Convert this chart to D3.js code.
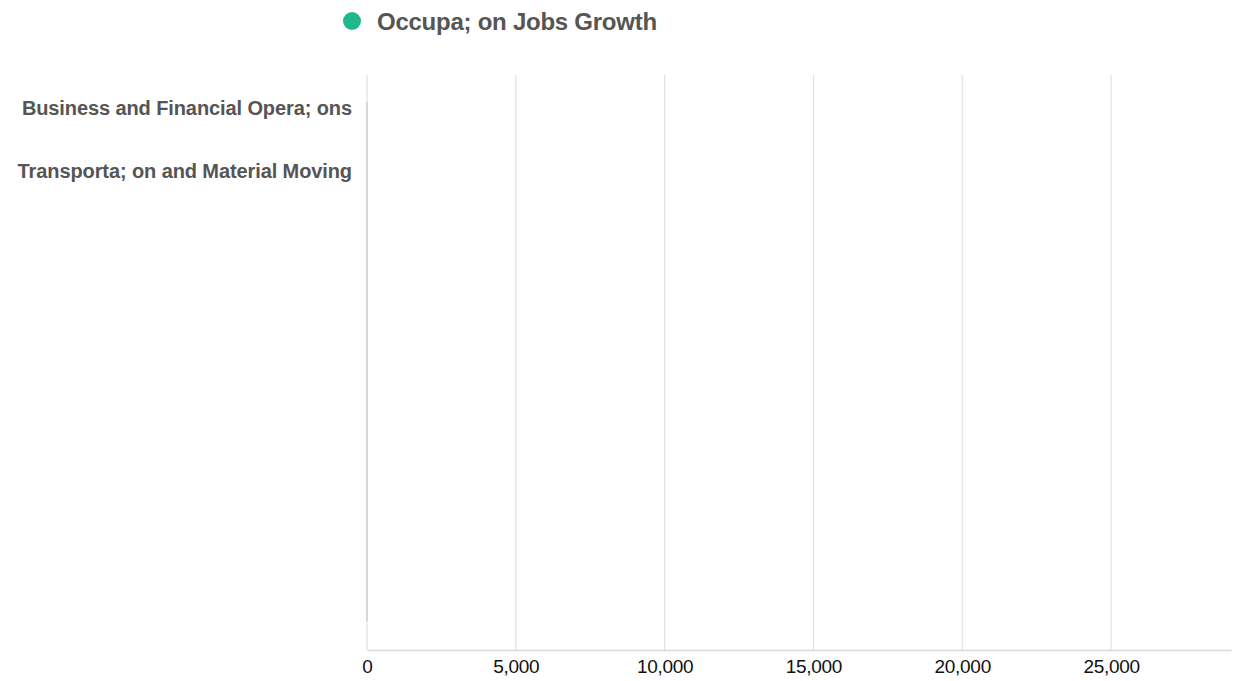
<!DOCTYPE html>
<html>
<head>
<meta charset="utf-8">
<script src="https://cdn.jsdelivr.net/npm/d3@7"></script>
<style>
  html, body { margin: 0; padding: 0; background: #fff; }
  svg text { font-family: "Liberation Sans", Arial, sans-serif; }
</style>
</head>
<body>
<svg id="chart" width="1244" height="681"></svg>
<script>
const categories = ["Business and Financial Opera; ons", "Transporta; on and Material Moving"];
const jobsGrowth = [0, 0];
const seriesName = "Occupa; on Jobs Growth";
const xTicks = [0, 5000, 10000, 15000, 20000, 25000];
const xMax = 29030;

const svg = d3.select("#chart");
const W = 1244, H = 681;
const margin = { left: 367, right: 13, top: 75, bottom: 31 };
const plotBottom = H - margin.bottom;

const x = d3.scaleLinear().domain([0, xMax]).range([margin.left, W - margin.right]);
const y = d3.scaleBand().domain(categories).range([77.5, 77.5 + 63 * categories.length])
  .paddingInner(0.3).paddingOuter(0.15);

// gridlines
svg.append("g").selectAll("line").data(xTicks).join("line")
  .attr("x1", d => x(d)).attr("x2", d => x(d))
  .attr("y1", margin.top).attr("y2", plotBottom)
  .attr("stroke", "#e0e0e0").attr("stroke-width", 1.2);

// y axis line
svg.append("line")
  .attr("x1", x(0)).attr("x2", x(0))
  .attr("y1", 102).attr("y2", 621)
  .attr("stroke", "#cfcfcf").attr("stroke-width", 1.5);

// x axis
const xAxis = d3.axisBottom(x).tickValues(xTicks).tickFormat(d3.format(",")).tickSize(0).tickPadding(10);
const gx = svg.append("g").attr("transform", `translate(0,${plotBottom})`).call(xAxis);
gx.select(".domain").attr("stroke", "#d9d9d9").attr("stroke-width", 1.5);
gx.selectAll("text")
  .attr("font-size", 19).attr("fill", "#111").attr("letter-spacing", "-0.3px")
  .attr("font-family", "Liberation Sans, Arial, sans-serif");

// y labels
const yAxis = d3.axisLeft(y).tickSize(0).tickPadding(15);
const gy = svg.append("g").attr("transform", `translate(${x(0)},0)`).call(yAxis);
gy.select(".domain").remove();
gy.selectAll("text")
  .attr("font-size", 20).attr("font-weight", "bold").attr("fill", "#555")
  .attr("letter-spacing", "-0.1px")
  .attr("font-family", "Liberation Sans, Arial, sans-serif");

// bars
svg.append("g").selectAll("rect").data(jobsGrowth).join("rect")
  .attr("x", x(0))
  .attr("y", (d, i) => y(categories[i]))
  .attr("width", d => x(d) - x(0))
  .attr("height", y.bandwidth())
  .attr("fill", "#1fb88a");

// legend
const lg = svg.append("g");
lg.append("circle").attr("cx", 352).attr("cy", 21).attr("r", 9).attr("fill", "#1fb88a");
lg.append("text").attr("x", 377).attr("y", 30)
  .attr("font-size", 24).attr("font-weight", "bold").attr("fill", "#555")
  .attr("letter-spacing", "-0.25px")
  .text(seriesName);
</script>
</body>
</html>
